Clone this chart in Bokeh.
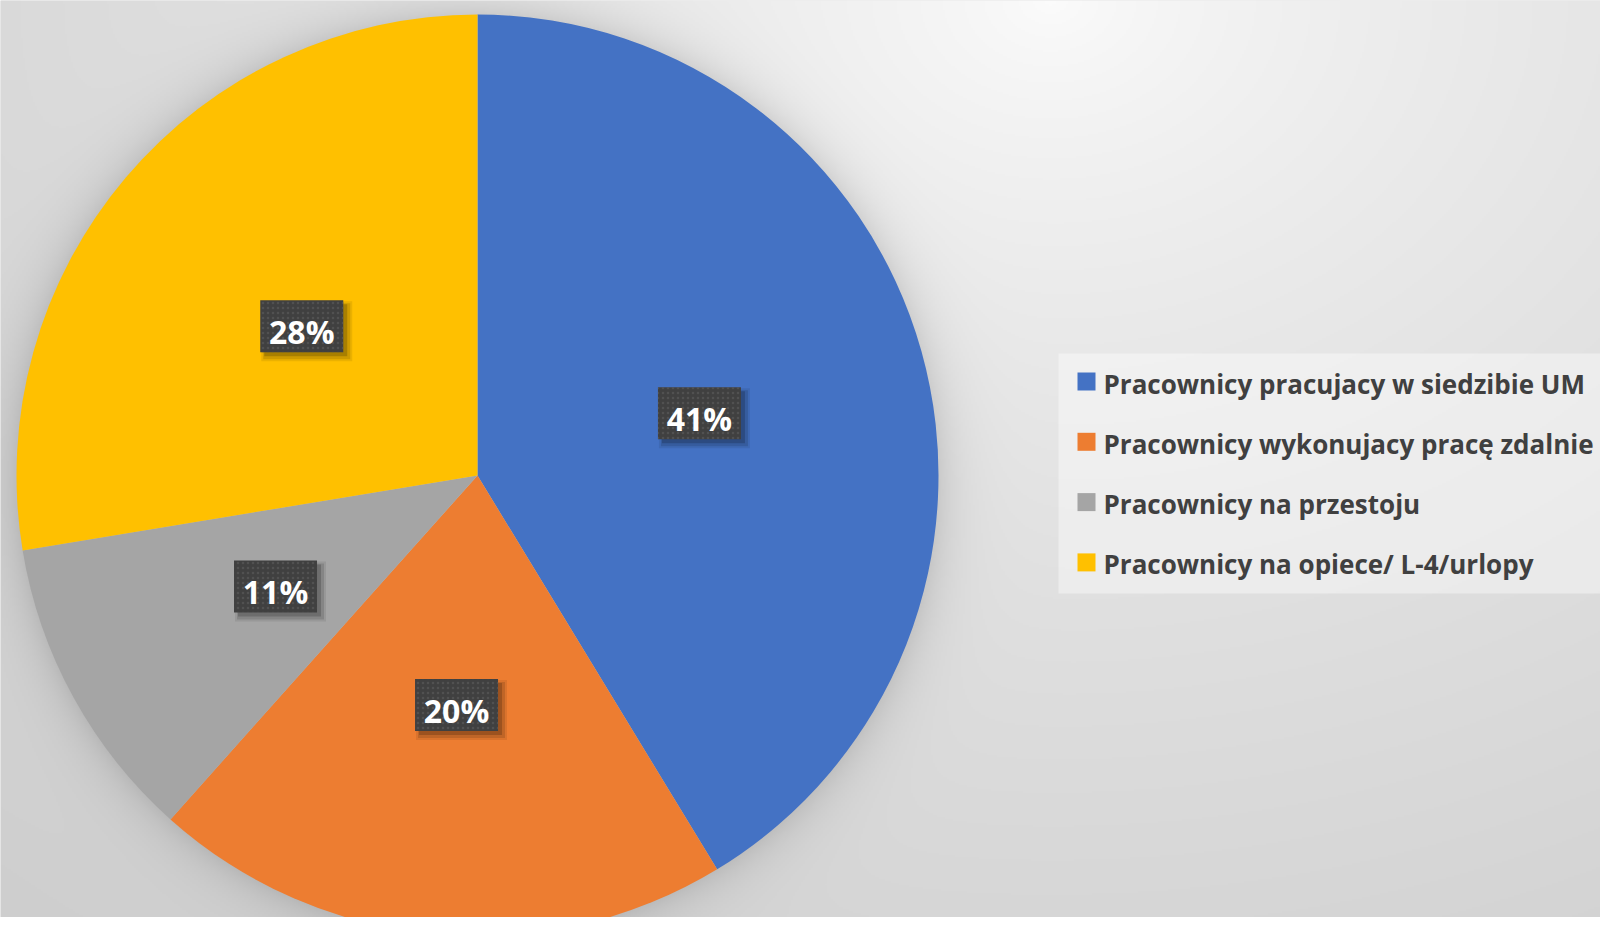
import numpy as np
from bokeh.plotting import figure
from bokeh.models import ColumnDataSource, Range1d
from bokeh.embed import file_html
from bokeh.resources import INLINE
from bokeh.core.properties import value

# ---- data ----
categories = [
    "Pracownicy pracujacy w siedzibie UM",
    "Pracownicy wykonujacy pracę zdalnie",
    "Pracownicy na przestoju",
    "Pracownicy na opiece/ L-4/urlopy",
]
shares = [41.3, 20.3, 10.8, 27.6]
colors = ["#4472C4", "#ED7D31", "#A5A5A5", "#FFC000"]

# ---- layout constants (pixels, y up) ----
W, H = 1600, 917
CX, CY, R = 477, 442, 461
FONT = "Open Sans"

total = float(sum(shares))
frac = np.array(shares) / total
cum = np.concatenate([[0.0], np.cumsum(frac)])
start = np.pi / 2 - cum[:-1] * 2 * np.pi
end = np.pi / 2 - cum[1:] * 2 * np.pi
mid = (start + end) / 2
lx = CX + 0.5 * R * np.cos(mid)
ly = CY + 0.5 * R * np.sin(mid)
labels = [f"{round(f * 100)}%" for f in frac]

p = figure(width=W, height=H, x_range=Range1d(0, W), y_range=Range1d(0, H),
           output_backend="svg", toolbar_location=None, min_border=0)
p.axis.visible = False
p.grid.visible = False
p.outline_line_color = None
p.background_fill_color = "#dcdcdc"
p.border_fill_color = "#dcdcdc"

# ---- background gradient with soft glow around pie ----
nx, ny = 800, 459
xs = (np.arange(nx) + 0.5) * W / nx
ys = (np.arange(ny) + 0.5) * H / ny
X, Y = np.meshgrid(xs, ys)
sy = H - Y
rr = np.sqrt(((X - 1050) / 1300) ** 2 + (sy / 1000) ** 2)
c = 252 - 40 * rr ** 0.7
d = np.sqrt((X - CX) ** 2 + (Y - CY) ** 2)
c = c - 26 * np.exp(-np.clip(d - R, 0, None) / 22)
c = np.clip(c, 0, 255).astype(np.uint8)
img = np.empty((ny, nx), dtype=np.uint32)
view = img.view(dtype=np.uint8).reshape((ny, nx, 4))
view[..., 0] = c
view[..., 1] = c
view[..., 2] = c
view[..., 3] = 255
p.image_rgba(image=[img], x=0, y=0, dw=W, dh=H)

# ---- pie ----
src = ColumnDataSource(dict(cat=categories, start=start, end=end, color=colors))
p.wedge(x=CX, y=CY, radius=R, start_angle="start", end_angle="end",
        direction="clock", fill_color="color", line_color=None, source=src)

# ---- data labels ----
lsrc = ColumnDataSource(dict(x=lx, y=ly, label=labels))
for off, grow, alpha in [(5, 8, 0.08), (5, 4, 0.12), (4, 0, 0.18)]:
    p.rect(x=lx + off, y=ly - off, width=83 + grow, height=52 + grow,
           width_units="screen", height_units="screen",
           fill_color="black", fill_alpha=alpha, line_color=None)
p.rect(x="x", y="y", width=83, height=52, width_units="screen", height_units="screen",
       fill_color="#404040", line_color=None, hatch_pattern="dot",
       hatch_color="#5c5c5c", hatch_alpha=0.6, hatch_scale=5, hatch_weight=1,
       source=lsrc)
p.text(x="x", y="y", text="label", source=lsrc, text_align="center",
       text_baseline="alphabetic", y_offset=5, text_color="white",
       text_font=value(FONT), text_font_style="bold", text_font_size="32px")

# ---- legend (drawn from the category arrays) ----
LEG_L, LEG_T, LEG_B = 1058, 564, 324
row_y = [536 - 60.3 * i for i in range(len(categories))]
legsrc = ColumnDataSource(dict(y=row_y, cat=categories, color=colors))
p.quad(left=LEG_L, right=W + 20, top=LEG_T, bottom=LEG_B,
       fill_color="white", fill_alpha=0.4, line_color=None)
p.rect(x=1086, y="y", width=18, height=18, width_units="screen", height_units="screen",
       fill_color="color", line_color=None, source=legsrc)
p.text(x=1103, y="y", text="cat", source=legsrc, text_align="left",
       text_baseline="alphabetic", y_offset=2, text_color="#404040",
       text_font=value(FONT), text_font_style="bold", text_font_size="26px")

open("out.html", "w").write(file_html(p, INLINE))
